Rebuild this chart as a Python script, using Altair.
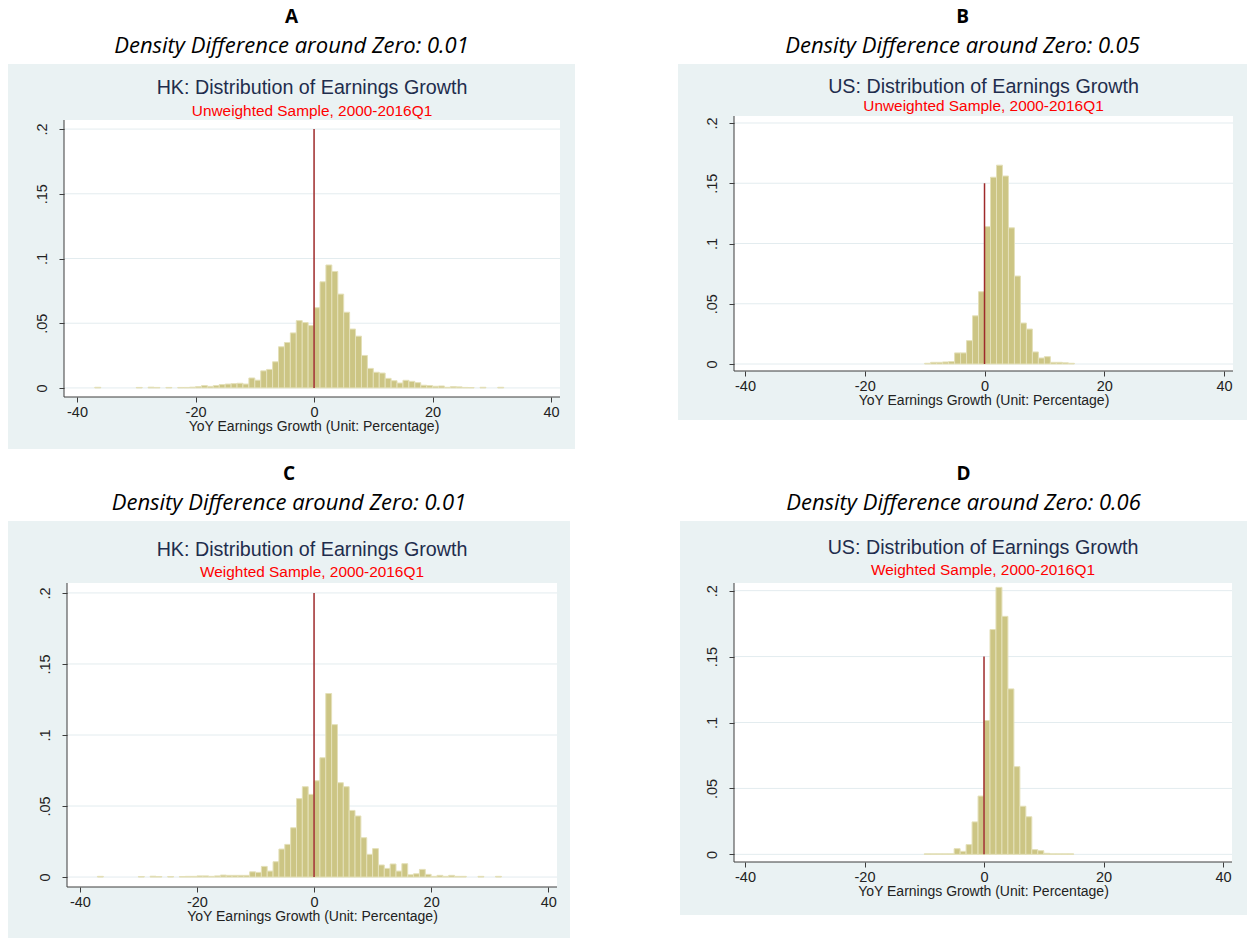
import altair as alt
import pandas as pd

# ---------------- data ----------------
x_ticks = [-40, -20, 0, 20, 40]
y_ticks = [0, 0.05, 0.1, 0.15, 0.2]

# Panel A: HK, unweighted
hk_unw_bins = [-37, -30, -28, -27, -25, -23, -22, -21, -20, -19, -18, -17, -16, -15, -14, -13,
               -12, -11, -10, -9, -8, -7, -6, -5, -4, -3, -2, -1, 0, 1, 2, 3, 4, 5, 6, 7, 8,
               9, 10, 11, 12, 13, 14, 15, 16, 17, 18, 19, 20, 21, 22, 23, 24, 25, 26, 28, 31]
hk_unw_dens = [0.0005, 0.0004, 0.0006, 0.0004, 0.0004, 0.0004, 0.0004, 0.0006, 0.0010, 0.0018,
               0.0012, 0.0018, 0.0026, 0.0030, 0.0033, 0.0036, 0.0030, 0.0077, 0.0060, 0.0132,
               0.0143, 0.0202, 0.0318, 0.0351, 0.0425, 0.0520, 0.0505, 0.0482, 0.0620, 0.0820,
               0.0950, 0.0900, 0.0725, 0.0585, 0.0455, 0.0400, 0.0251, 0.0151, 0.0121, 0.0115,
               0.0074, 0.0056, 0.0038, 0.0059, 0.0051, 0.0041, 0.0021, 0.0018, 0.0013, 0.0015,
               0.0005, 0.0010, 0.0008, 0.0004, 0.0003, 0.0005, 0.0005]

# Panel B: US, unweighted
us_unw_bins = [-10, -9, -8, -7, -6, -5, -4, -3, -2, -1, 0, 1, 2, 3, 4, 5, 6, 7, 8, 9, 10,
               11, 12, 13, 14]
us_unw_dens = [0.0006, 0.0014, 0.0014, 0.0017, 0.0020, 0.0092, 0.0092, 0.0194, 0.0400, 0.0600,
               0.1140, 0.1550, 0.1650, 0.1560, 0.1130, 0.0730, 0.0340, 0.0290, 0.0100, 0.0050,
               0.0061, 0.0014, 0.0014, 0.0010, 0.0006]

# Panel C: HK, weighted
hk_w_bins = [-37, -30, -28, -27, -25, -23, -22, -21, -20, -19, -18, -17, -16, -15, -14, -13,
             -12, -11, -10, -9, -8, -7, -6, -5, -4, -3, -2, -1, 0, 1, 2, 3, 4, 5, 6, 7, 8,
             9, 10, 11, 12, 13, 14, 15, 16, 17, 18, 19, 20, 21, 22, 23, 24, 25, 28, 31]
hk_w_dens = [0.0005, 0.0004, 0.0006, 0.0004, 0.0004, 0.0004, 0.0005, 0.0005, 0.0008, 0.0008,
             0.0005, 0.0008, 0.0014, 0.0012, 0.0012, 0.0012, 0.0012, 0.0037, 0.0033, 0.0075,
             0.0042, 0.0108, 0.0197, 0.0230, 0.0347, 0.0552, 0.0636, 0.0582, 0.0678, 0.0840,
             0.1292, 0.1073, 0.0664, 0.0636, 0.0469, 0.0430, 0.0277, 0.0160, 0.0200, 0.0085,
             0.0061, 0.0092, 0.0042, 0.0094, 0.0016, 0.0023, 0.0054, 0.0019, 0.0005, 0.0012,
             0.0005, 0.0012, 0.0005, 0.0005, 0.0005, 0.0005]

# Panel D: US, weighted
us_w_bins = [-10, -9, -8, -7, -6, -5, -4, -3, -2, -1, 0, 1, 2, 3, 4, 5, 6, 7, 8, 9, 10,
             11, 12, 13, 14]
us_w_dens = [0.0004, 0.0004, 0.0004, 0.0004, 0.0004, 0.0043, 0.0023, 0.0074, 0.0246, 0.0442,
             0.1015, 0.1705, 0.2025, 0.1805, 0.1255, 0.0665, 0.0365, 0.0285, 0.0036, 0.0028,
             0.0008, 0.0004, 0.0004, 0.0004, 0.0004]

# ---------------- styling ----------------
BOX = "#eaf2f3"
GRID = "#e3ecef"
BAR_FILL = "#ccc584"
BAR_STROKE = "#e4e0b9"
RED_LINE = "#9e2a2b"
AXIS_COL = "#3c3c3c"
NAVY = "#1f2d4d"
SANS = "Liberation Sans"
XTITLE = "YoY Earnings Growth (Unit: Percentage)"


def panel(letter, italic, title, subtitle, bins, dens, red_top, w, h, xdom, ydom,
          white_left, white_top, box, t_y, s_y):
    df = pd.DataFrame({"b0": bins, "d": dens})
    df["b1"] = df["b0"] + 1
    xs = alt.Scale(domain=xdom, nice=False, zero=False)
    ys = alt.Scale(domain=ydom, nice=False, zero=False)
    one = pd.DataFrame({"k": [0]})
    l, r, t, b = box
    wl = -white_left

    xaxis = alt.Axis(values=x_ticks, title=XTITLE, grid=False, zindex=1, domain=False,
                     labelExpr="'' + datum.value",
                     labelFont=SANS, labelFontSize=14.5, labelColor="#222",
                     titleFont=SANS, titleFontSize=14, titleFontWeight="normal", titleColor="#222",
                     tickColor=AXIS_COL, tickSize=5,
                     labelPadding=3, titlePadding=1, labelFlush=False)
    yaxis = alt.Axis(values=y_ticks, title=None, grid=False, zindex=1, domain=False,
                     offset=white_left,
                     labelExpr="datum.value == 0 ? '0' : replace(format(datum.value, '.2~f'), '0.', '.')",
                     labelAngle=270, labelAlign="center", labelBaseline="bottom",
                     labelFont=SANS, labelFontSize=14.5, labelColor="#222",
                     tickColor=AXIS_COL, tickSize=5,
                     labelPadding=10, labelFlush=False)

    bg = alt.Chart(one).mark_rect(color=BOX).encode(
        x=alt.value(l), x2=alt.value(w + r), y=alt.value(t), y2=alt.value(h + b))
    white = alt.Chart(one).mark_rect(color="white").encode(
        x=alt.value(wl), x2=alt.value(w), y=alt.value(white_top), y2=alt.value(h))
    grid = alt.Chart(pd.DataFrame({"g": y_ticks})).mark_rule(color=GRID, strokeWidth=1).encode(
        y=alt.Y("g:Q", scale=ys, axis=yaxis), x=alt.value(wl), x2=alt.value(w))
    bars = alt.Chart(df).mark_rect(fill=BAR_FILL, stroke=BAR_STROKE, strokeWidth=1).encode(
        x=alt.X("b0:Q", scale=xs, axis=xaxis),
        x2="b1:Q",
        y=alt.Y("d:Q", scale=ys, axis=yaxis),
        y2=alt.datum(0),
    )
    red = alt.Chart(pd.DataFrame({"x": [0], "y0": [0], "y1": [red_top]})).mark_rule(
        color=RED_LINE, strokeWidth=1.5).encode(
        x=alt.X("x:Q", scale=xs, axis=xaxis),
        y=alt.Y("y0:Q", scale=ys, axis=yaxis),
        y2="y1:Q",
    )
    yline = alt.Chart(one).mark_rule(color=AXIS_COL, strokeWidth=1).encode(
        x=alt.value(wl), y=alt.value(white_top), y2=alt.value(h))
    xline = alt.Chart(one).mark_rule(color=AXIS_COL, strokeWidth=1).encode(
        x=alt.value(wl), x2=alt.value(w), y=alt.value(h))
    t1 = alt.Chart(one).mark_text(text=title, font=SANS, fontSize=19.7, color=NAVY,
                                  align="center", baseline="middle").encode(
        x=alt.value((wl + w) / 2), y=alt.value(t_y))
    t2 = alt.Chart(one).mark_text(text=subtitle, font=SANS, fontSize=15.4, color="#ff0000",
                                  align="center", baseline="middle").encode(
        x=alt.value((wl + w) / 2), y=alt.value(s_y))

    return alt.layer(bg, white, grid, bars, red, yline, xline, t1, t2).properties(
        width=w, height=h,
        title=alt.TitleParams(
            text=letter, subtitle=italic,
            font="Open Sans", fontSize=19, fontWeight="bold", color="#000",
            subtitleFont="Open Sans", subtitleFontSize=22, subtitleFontStyle="italic",
            subtitleColor="#000", subtitlePadding=9,
            anchor="middle", frame="bounds", offset=7,
        ),
    )


pA = panel("A", "Density Difference around Zero: 0.01", "HK: Distribution of Earnings Growth",
           "Unweighted Sample, 2000-2016Q1", hk_unw_bins, hk_unw_dens, 0.2,
           493, 281, [-41.69, 41.5], [-0.007, 0.2101], 3, 4, (-59, 15, -52, 52), -28, -5)
pB = panel("B", "Density Difference around Zero: 0.05", "US: Distribution of Earnings Growth",
           "Unweighted Sample, 2000-2016Q1", us_unw_bins, us_unw_dens, 0.15,
           499, 255, [-41.84, 41.5], [-0.0058, 0.2058], 0, 0, (-56, 14, -52, 49), -29, -10)
pC = panel("C", "Density Difference around Zero: 0.01", "HK: Distribution of Earnings Growth",
           "Weighted Sample, 2000-2016Q1", hk_w_bins, hk_w_dens, 0.2,
           490, 304, [-42.2, 41.5], [-0.007, 0.207], 0, 0, (-59, 13, -62, 52), -33, -11)
pD = panel("D", "Density Difference around Zero: 0.06", "US: Distribution of Earnings Growth",
           "Weighted Sample, 2000-2016Q1", us_w_bins, us_w_dens, 0.15,
           498, 279, [-41.84, 41.5], [-0.0058, 0.2058], 0, 0, (-54, 15, -62, 53), -35, -13)

row1 = alt.hconcat(pA, pB, spacing=103)
row2 = alt.hconcat(pC, pD, spacing=110)

chart = alt.vconcat(row1, row2, spacing=16).properties(
    padding={"left": 8, "top": 8, "right": 0, "bottom": 0},
    background="white",
).configure_view(stroke=None)

chart.save("out.html", embed_options={"renderer": "svg", "actions": False})
